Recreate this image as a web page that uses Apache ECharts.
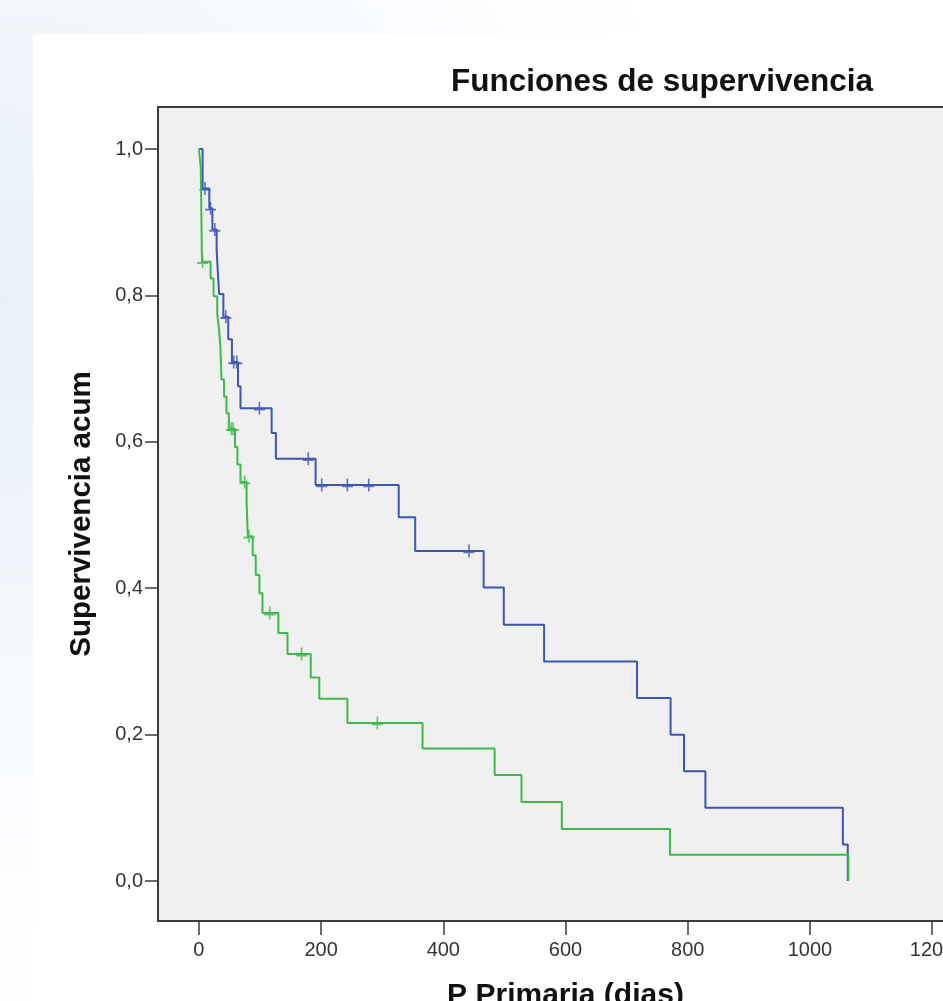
<!DOCTYPE html>
<html>
<head>
<meta charset="utf-8">
<script src="https://cdn.jsdelivr.net/npm/echarts@6/dist/echarts.min.js"></script>
<style>
html,body{margin:0;padding:0;background:#fff;}
#chart{width:943px;height:1001px;}
</style>
</head>
<body>
<div id="chart"></div>
<script>
// ---- data ----
const xTickValues = [0, 200, 400, 600, 800, 1000, 1200];
const yTickValues = [0, 0.2, 0.4, 0.6, 0.8, 1.0];

// Group 1 (blue): event times and survival after each step
const blueTimes = [0, 6, 17, 22, 29, 31, 33, 40, 48, 54, 64, 68, 119, 126, 191, 327, 354, 466, 499, 565, 717, 772, 794, 829, 1054, 1062];
const blueSurv  = [1.0, 0.946, 0.919, 0.890, 0.862, 0.831, 0.802, 0.771, 0.740, 0.709, 0.676, 0.646, 0.612, 0.577, 0.541, 0.497, 0.451, 0.401, 0.350, 0.300, 0.250, 0.200, 0.150, 0.100, 0.050, 0.0];
const blueCensored = [10, 19, 26, 44, 57, 62, 99, 179, 201, 243, 278, 442];

// Group 2 (green)
const greenTimes = [0, 3, 5, 19, 24, 30, 33, 35, 37, 41, 45, 49, 59, 63, 68, 78, 80, 88, 93, 99, 104, 130, 145, 183, 197, 243, 366, 484, 528, 594, 771, 1063];
const greenSurv  = [1.0, 0.974, 0.846, 0.823, 0.799, 0.774, 0.753, 0.731, 0.685, 0.662, 0.639, 0.618, 0.593, 0.569, 0.545, 0.519, 0.471, 0.445, 0.418, 0.393, 0.366, 0.339, 0.310, 0.278, 0.249, 0.216, 0.181, 0.145, 0.108, 0.071, 0.036, 0.0];
const greenCensored = [6, 53, 56, 75, 82, 116, 168, 292];

const BLUE = '#3d56b2';
const GREEN = '#3cba4c';

function stepValueAt(times, surv, t) {
  let v = surv[0];
  for (let i = 0; i < times.length; i++) { if (times[i] <= t) v = surv[i]; }
  return v;
}
function pairs(times, surv) { return times.map((t, i) => [t, surv[i]]); }
function censorPairs(cens, times, surv) { return cens.map(t => [t, stepValueAt(times, surv, t)]); }

const plusSymbol = 'path://M0,5.25h10v1.5h-10z M4.25,0h1.5v10h-1.5z';
const FONT = '"Liberation Sans", Arial, sans-serif';

const chart = echarts.init(document.getElementById('chart'), null, {renderer: 'canvas'});
chart.setOption({
  animation: false,
  backgroundColor: '#ffffff',
  graphic: [
    {
      type: 'rect', z: -100, silent: true,
      shape: {x: 0, y: 0, width: 943, height: 1001},
      style: {
        fill: new echarts.graphic.RadialGradient(0, 0.3, 0.75, [
          {offset: 0, color: '#e7eff9'},
          {offset: 0.55, color: '#f6f9fd'},
          {offset: 1, color: '#ffffff'}
        ])
      }
    },
    {
      type: 'rect', z: -99, silent: true,
      shape: {x: 33, y: 34, width: 910, height: 967},
      style: {fill: '#ffffff'}
    },
    {
      type: 'text', z: 10,
      x: 662, y: 82,
      style: {
        text: 'Funciones de supervivencia',
        fill: '#111',
        font: 'bold 31.5px ' + FONT,
        textAlign: 'center',
        textVerticalAlign: 'middle'
      }
    }
  ],
  grid: {
    left: 158, top: 107, width: 815, height: 814,
    show: true,
    backgroundColor: '#f0f0f0',
    borderColor: '#3a3a3a',
    borderWidth: 2,
    containLabel: false,
    outerBoundsMode: 'none'
  },
  xAxis: {
    type: 'value',
    min: -67, max: 1267,
    name: 'P Primaria (dias)',
    nameLocation: 'middle',
    nameGap: 60,
    nameTextStyle: {fontFamily: FONT, fontWeight: 'bold', fontSize: 30, color: '#111'},
    axisLine: {show: false, onZero: false},
    splitLine: {show: false},
    axisTick: {show: true, length: 14, customValues: xTickValues, lineStyle: {color: '#3a3a3a', width: 1.5}},
    axisLabel: {
      customValues: xTickValues,
      margin: 19,
      fontFamily: FONT, fontSize: 20, color: '#333',
      formatter: v => String(v)
    }
  },
  yAxis: {
    type: 'value',
    min: -0.0546, max: 1.0574,
    name: 'Supervivencia acum',
    nameLocation: 'middle',
    nameGap: 61,
    nameTextStyle: {fontFamily: FONT, fontWeight: 'bold', fontSize: 29.5, color: '#111'},
    axisLine: {show: false, onZero: false},
    splitLine: {show: false},
    axisTick: {show: true, length: 13, customValues: yTickValues, lineStyle: {color: '#3a3a3a', width: 1.5}},
    axisLabel: {
      customValues: yTickValues,
      margin: 15,
      fontFamily: FONT, fontSize: 20, color: '#333',
      formatter: v => v.toFixed(1).replace('.', ',')
    }
  },
  series: [
    {
      name: 'Grupo 1', type: 'line', step: 'end',
      data: pairs(blueTimes, blueSurv),
      showSymbol: false, symbol: 'none',
      lineStyle: {color: BLUE, width: 2},
      itemStyle: {color: BLUE},
      z: 2
    },
    {
      name: 'Grupo 1 censurado', type: 'scatter',
      data: censorPairs(blueCensored, blueTimes, blueSurv),
      symbol: plusSymbol, symbolSize: [11, 13],
      itemStyle: {color: BLUE},
      z: 3
    },
    {
      name: 'Grupo 2', type: 'line', step: 'end',
      data: pairs(greenTimes, greenSurv),
      showSymbol: false, symbol: 'none',
      lineStyle: {color: GREEN, width: 2},
      itemStyle: {color: GREEN},
      z: 4
    },
    {
      name: 'Grupo 2 censurado', type: 'scatter',
      data: censorPairs(greenCensored, greenTimes, greenSurv),
      symbol: plusSymbol, symbolSize: [11, 13],
      itemStyle: {color: GREEN},
      z: 5
    }
  ]
});
</script>
</body>
</html>
